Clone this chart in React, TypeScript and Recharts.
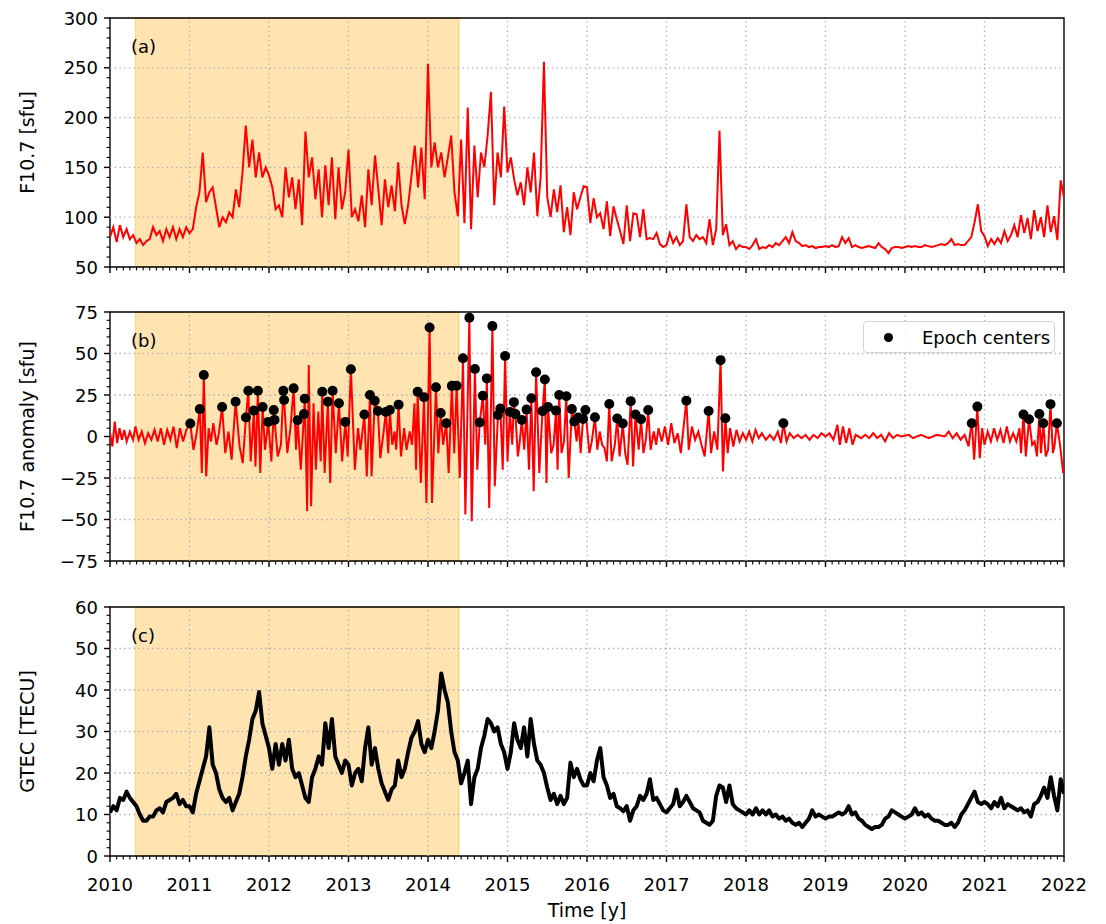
import React from 'react';
import {
  ComposedChart,
  Line,
  Scatter,
  XAxis,
  YAxis,
  ReferenceArea,
  ReferenceLine,
  Legend,
  Label,
} from 'recharts';

// Half-monthly samples (24 per year) of the solar radio flux, 2010.0 .. 2022.0
const f107_2010 = [80, 90, 75, 92, 80, 88, 78, 82, 74, 78, 72, 76, 78, 90, 82, 86, 76, 88, 80, 90, 78, 88, 80, 90];
const f107_2011 = [84, 88, 110, 125, 165, 115, 125, 130, 110, 90, 100, 95, 105, 100, 128, 110, 145, 192, 150, 178, 140, 165, 140, 150];
const f107_2012 = [142, 130, 108, 112, 100, 150, 120, 140, 108, 138, 92, 186, 140, 160, 118, 148, 100, 152, 112, 160, 98, 150, 108, 125];
const f107_2013 = [168, 100, 108, 96, 122, 90, 148, 112, 162, 128, 92, 138, 110, 132, 106, 155, 112, 93, 112, 141, 172, 130, 170, 118];
const f107_2014 = [254, 150, 175, 150, 165, 140, 160, 182, 125, 101, 178, 94, 210, 88, 172, 120, 165, 150, 182, 226, 112, 165, 140, 211];
const f107_2015 = [145, 160, 138, 122, 135, 112, 150, 125, 165, 101, 140, 256, 120, 100, 128, 105, 132, 85, 110, 82, 125, 108, 120, 131];
const f107_2016 = [130, 94, 119, 100, 104, 88, 116, 81, 111, 98, 86, 73, 112, 76, 104, 103, 80, 108, 78, 79, 78, 84, 73, 70];
const f107_2017 = [72, 84, 74, 80, 72, 76, 113, 80, 76, 82, 78, 80, 74, 98, 72, 88, 187, 82, 93, 72, 76, 68, 72, 70];
const f107_2018 = [70, 68, 72, 78, 68, 70, 69, 72, 70, 74, 72, 76, 80, 74, 85, 76, 74, 71, 72, 70, 71, 69, 70, 70];
const f107_2019 = [71, 70, 72, 70, 71, 80, 74, 79, 70, 72, 70, 69, 70, 71, 70, 69, 74, 70, 68, 64, 69, 70, 70, 69];
const f107_2020 = [70, 71, 70, 71, 70, 70, 72, 71, 70, 71, 72, 73, 72, 74, 78, 72, 73, 72, 72, 76, 80, 95, 113, 86];
const f107_2021 = [81, 71, 78, 73, 79, 74, 86, 76, 82, 92, 80, 102, 84, 99, 78, 107, 86, 100, 80, 112, 85, 101, 77, 137];
const f107_end = [120];

// Global TEC, same sampling
const gtec_2010 = [10.5, 12, 11, 14, 13.5, 15.5, 14, 13, 12, 10, 8.5, 8.5, 9.5, 9.5, 11, 11.5, 10.5, 13, 13.5, 14, 15, 12.5, 13.5, 12];
const gtec_2011 = [12, 10.5, 15, 18, 21, 24, 31, 22, 20, 16, 14, 13, 14, 11, 13, 15, 19, 24, 28, 33, 35, 39.5, 32, 29];
const gtec_2012 = [26, 21, 27, 22, 27, 23, 28, 21, 19, 20, 17, 14, 13, 19, 21, 24, 22, 32, 26, 33, 24, 22, 20, 23];
const gtec_2013 = [22, 17, 20, 21, 18, 26, 31, 22, 26, 21, 17.5, 15.5, 13.5, 16, 17, 23, 19, 21, 25, 28.5, 30, 32.5, 27, 25];
const gtec_2014 = [28, 26, 30, 35, 44, 40, 37, 30, 25, 23, 17.5, 20, 23, 12.5, 19, 21, 26, 29, 33, 32, 30, 31, 27, 25];
const gtec_2015 = [21, 25, 32, 28, 26, 31, 24, 33, 27, 23, 22, 20, 16.5, 13.5, 15, 12.5, 14.5, 12.5, 14, 22.5, 19, 21, 18.5, 17];
const gtec_2016 = [17, 20, 18, 23, 26, 19, 17, 14, 15, 12, 11.5, 10.8, 12, 8.5, 11, 12, 14.5, 13.5, 15, 18.5, 13.5, 14, 12.5, 11];
const gtec_2017 = [10.5, 11.5, 12.5, 16, 12, 13, 14.5, 13, 11.5, 11, 10.5, 8.5, 8, 7.5, 8.5, 14.5, 17, 16.5, 13, 17, 12.5, 11.5, 11, 10.5];
const gtec_2018 = [10, 11, 10, 11.5, 10, 11, 10, 11, 9.5, 10, 9, 9.5, 8.5, 9, 8, 7.5, 8, 7, 8, 9, 11, 9.5, 10, 9.5];
const gtec_2019 = [9, 9.5, 9.5, 10, 10.5, 10, 10.5, 12, 10, 10.5, 9, 8.5, 7.5, 7, 6.5, 7, 7, 7.5, 9, 9.5, 11, 10.5, 10, 9.5];
const gtec_2020 = [9, 9.5, 10, 11.5, 10, 10.5, 9.5, 10, 9, 8.5, 8.5, 8, 7.5, 7.5, 8, 7, 8, 10, 11, 12.5, 14, 15.5, 13, 12.5];
const gtec_2021 = [13, 12.5, 11.5, 13, 12, 14, 11.5, 12.5, 12, 11.5, 11, 11.5, 10.5, 11, 9.5, 12.5, 13, 14.5, 16.5, 14, 19, 14.5, 11, 18.5];
const gtec_end = [15];

// F10.7 anomaly, [decimal year, sfu]
const anomaly: [number, number][] = [
  [2010.0, 2], [2010.03, -6], [2010.06, 9], [2010.09, -4], [2010.12, 5], [2010.15, -2], [2010.18, 4], [2010.21, -3],
  [2010.25, 3], [2010.29, -2], [2010.32, 6], [2010.36, -2], [2010.4, 3], [2010.44, -4], [2010.48, 2], [2010.52, -2],
  [2010.56, 4], [2010.6, -3], [2010.64, 5], [2010.68, -5], [2010.72, 4], [2010.76, -2], [2010.8, 6], [2010.84, -7],
  [2010.88, 5], [2010.92, -3], [2010.96, 4],
  [2011.01, 7.8], [2011.05, -8], [2011.09, 2], [2011.13, 16.5], [2011.155, -22], [2011.18, 37], [2011.21, -24],
  [2011.24, 5], [2011.27, -3], [2011.3, 8], [2011.34, -5], [2011.37, 2], [2011.41, 17.8], [2011.45, -10], [2011.49, 3],
  [2011.53, -14], [2011.58, 20.9], [2011.63, -6], [2011.67, -16], [2011.71, 11.4], [2011.74, 27.6], [2011.77, -15],
  [2011.81, 15.6], [2011.83, -18], [2011.86, 27.6], [2011.89, -22], [2011.92, 17.8], [2011.95, -8], [2011.99, 8.8],
  [2012.03, -15], [2012.06, 15.9], [2012.07, 10], [2012.11, -12], [2012.15, -5], [2012.18, 27.5], [2012.19, 22],
  [2012.23, -10], [2012.27, 5], [2012.31, 29], [2012.34, -8], [2012.36, 9.8], [2012.4, -20], [2012.44, 13.5],
  [2012.45, 22.8], [2012.48, -45], [2012.5, 43], [2012.53, -42], [2012.56, 20], [2012.59, -20], [2012.62, 15],
  [2012.65, -15], [2012.67, 27], [2012.7, -22], [2012.74, 21], [2012.77, -28], [2012.8, 27.6], [2012.84, -10],
  [2012.88, 20], [2012.92, -15], [2012.96, 8.8], [2012.99, -12],
  [2013.03, 40.5], [2013.08, -20], [2013.12, 5], [2013.15, -8], [2013.2, 13.2], [2013.23, -24], [2013.27, 25],
  [2013.29, -24], [2013.33, 21.5], [2013.37, 15.4], [2013.4, -13], [2013.44, 2], [2013.47, 14.8], [2013.5, -10],
  [2013.52, 16], [2013.55, -5], [2013.58, 3], [2013.6, -8], [2013.63, 19.2], [2013.66, -12], [2013.7, 5], [2013.73, -8],
  [2013.77, 3], [2013.8, -5], [2013.83, 20], [2013.85, -20], [2013.87, 26.9], [2013.91, -28], [2013.95, 23.7],
  [2013.98, -40],
  [2014.02, 65.7], [2014.05, -40], [2014.1, 29.7], [2014.13, -10], [2014.16, 14.2], [2014.19, -5], [2014.23, 8],
  [2014.26, -22], [2014.3, 30.5], [2014.33, -10], [2014.36, 30.6], [2014.4, -25], [2014.44, 47.1], [2014.47, -47],
  [2014.52, 71.5], [2014.55, -51], [2014.59, 40.7], [2014.62, -20], [2014.65, 8.4], [2014.69, 24.5], [2014.72, -5],
  [2014.74, 35], [2014.77, -43], [2014.81, 66.5], [2014.84, -30], [2014.88, 13], [2014.91, 16.8], [2014.94, -20],
  [2014.97, 48.5],
  [2015.0, -15], [2015.03, 14.8], [2015.06, -5], [2015.08, 20.7], [2015.1, 13.5], [2015.13, -12], [2015.15, -5],
  [2015.18, 10], [2015.21, -8], [2015.24, 16.2], [2015.27, -20], [2015.3, 23], [2015.33, -33], [2015.36, 38.7],
  [2015.4, -22], [2015.44, 15.3], [2015.47, 34.3], [2015.49, -28], [2015.51, 17.8], [2015.55, -10], [2015.58, -5],
  [2015.61, 15.6], [2015.63, -20], [2015.65, 25], [2015.68, -10], [2015.71, -3], [2015.74, 24.3], [2015.77, -25],
  [2015.81, 16.5], [2015.84, 9], [2015.87, -3], [2015.89, 11.4], [2015.92, -10], [2015.95, 10.6], [2015.98, 16],
  [2016.03, -10], [2016.06, -3], [2016.1, 11.6], [2016.13, -8], [2016.16, 3], [2016.19, -5], [2016.22, -7],
  [2016.25, -15], [2016.28, 19.6], [2016.31, -15], [2016.35, -5], [2016.38, 10.8], [2016.41, -12], [2016.45, 7.8],
  [2016.48, -10], [2016.51, -17], [2016.55, 21.3], [2016.58, -18], [2016.61, 13.2], [2016.65, -8], [2016.68, 10.4],
  [2016.71, -10], [2016.74, -2], [2016.77, 16], [2016.8, -8], [2016.84, 3], [2016.87, -5], [2016.9, 5], [2016.94, -3],
  [2016.98, 6],
  [2017.02, -5], [2017.06, 8], [2017.1, -4], [2017.14, 2], [2017.18, -10], [2017.25, 21.6], [2017.28, -8],
  [2017.32, 6], [2017.36, -2], [2017.4, 3], [2017.44, -5], [2017.48, -12], [2017.53, 15.4], [2017.56, -10],
  [2017.6, 3], [2017.64, -8], [2017.68, 46], [2017.71, -21], [2017.74, 11], [2017.77, -10], [2017.8, 5],
  [2017.84, -6], [2017.88, 4], [2017.92, -3], [2017.96, 2],
  [2018.0, -2], [2018.04, 3], [2018.08, -3], [2018.12, 4], [2018.16, -1], [2018.2, 2], [2018.25, -2], [2018.3, 1],
  [2018.35, -2], [2018.4, 3], [2018.44, -4], [2018.47, 8], [2018.51, -3], [2018.55, 2], [2018.6, -1], [2018.65, 1],
  [2018.7, -1], [2018.75, 1], [2018.8, -2], [2018.85, 1], [2018.9, -1], [2018.95, 2],
  [2019.0, 0], [2019.05, 2], [2019.1, -2], [2019.15, 7], [2019.18, -5], [2019.22, 6], [2019.26, -4], [2019.3, 5],
  [2019.34, -5], [2019.38, 1], [2019.45, -1], [2019.5, 1], [2019.55, -1], [2019.6, 2], [2019.65, -1], [2019.7, 1],
  [2019.75, -3], [2019.8, 2], [2019.85, -1], [2019.9, 1], [2019.95, 0],
  [2020.05, 1], [2020.1, -1], [2020.2, 1], [2020.3, -1], [2020.4, 1], [2020.5, 0], [2020.55, 3], [2020.6, -1],
  [2020.65, 2], [2020.7, -2], [2020.75, 1], [2020.8, -6], [2020.82, 2], [2020.84, 8], [2020.87, -14], [2020.91, 18],
  [2020.94, -13], [2020.97, 5],
  [2021.0, -5], [2021.04, 3], [2021.08, -3], [2021.12, 5], [2021.16, -2], [2021.2, 4], [2021.24, -4], [2021.28, 6],
  [2021.32, -3], [2021.36, 2], [2021.4, -3], [2021.44, 5], [2021.46, -10], [2021.49, 13.2], [2021.52, -12],
  [2021.56, 10.4], [2021.6, -5], [2021.63, -3], [2021.66, -12], [2021.69, 13.6], [2021.71, -10], [2021.74, 8],
  [2021.77, -12], [2021.8, -8], [2021.83, 19.5], [2021.86, -10], [2021.88, -6], [2021.91, 8], [2021.95, -5],
  [2021.99, -22],
];

// Epoch centers, [decimal year, anomaly sfu]
const epochCenters: [number, number][] = [
  [2011.01, 7.8], [2011.13, 16.5], [2011.18, 37], [2011.41, 17.8], [2011.58, 20.9], [2011.71, 11.4], [2011.74, 27.6],
  [2011.81, 15.6], [2011.86, 27.6], [2011.92, 17.8], [2011.99, 8.8], [2012.06, 15.9], [2012.07, 10], [2012.18, 27.5],
  [2012.19, 22], [2012.31, 29], [2012.36, 9.8], [2012.44, 13.5], [2012.45, 22.8], [2012.67, 27], [2012.74, 21],
  [2012.8, 27.6], [2012.88, 20], [2012.96, 8.8], [2013.03, 40.5], [2013.2, 13.2], [2013.27, 25], [2013.33, 21.5],
  [2013.37, 15.4], [2013.47, 14.8], [2013.52, 16], [2013.63, 19.2], [2013.87, 26.9], [2013.95, 23.7], [2014.02, 65.7],
  [2014.1, 29.7], [2014.16, 14.2], [2014.23, 8], [2014.3, 30.5], [2014.36, 30.6], [2014.44, 47.1], [2014.52, 71.5],
  [2014.59, 40.7], [2014.65, 8.4], [2014.69, 24.5], [2014.74, 35], [2014.81, 66.5], [2014.88, 13], [2014.91, 16.8],
  [2014.97, 48.5], [2015.03, 14.8], [2015.08, 20.7], [2015.1, 13.5], [2015.18, 10], [2015.24, 16.2], [2015.3, 23],
  [2015.36, 38.7], [2015.44, 15.3], [2015.47, 34.3], [2015.51, 17.8], [2015.61, 15.6], [2015.65, 25], [2015.74, 24.3],
  [2015.81, 16.5], [2015.84, 9], [2015.89, 11.4], [2015.95, 10.6], [2015.98, 16], [2016.1, 11.6], [2016.28, 19.6],
  [2016.38, 10.8], [2016.45, 7.8], [2016.55, 21.3], [2016.61, 13.2], [2016.68, 10.4], [2016.77, 16], [2017.25, 21.6],
  [2017.53, 15.4], [2017.68, 46], [2017.74, 11], [2018.47, 8], [2020.84, 8], [2020.91, 18], [2021.49, 13.2],
  [2021.56, 10.4], [2021.69, 13.6], [2021.74, 8], [2021.83, 19.5], [2021.91, 8],
];

// highlighted interval (decimal years)
const SHADE_START = 2010.32;
const SHADE_END = 2014.39;

const X_DOMAIN: [number, number] = [2010, 2022];
const YEARS = [2010, 2011, 2012, 2013, 2014, 2015, 2016, 2017, 2018, 2019, 2020, 2021, 2022];
const SAMPLES_PER_YEAR = 24;

const f107 = [
  ...f107_2010, ...f107_2011, ...f107_2012, ...f107_2013, ...f107_2014, ...f107_2015,
  ...f107_2016, ...f107_2017, ...f107_2018, ...f107_2019, ...f107_2020, ...f107_2021, ...f107_end,
];
const gtec = [
  ...gtec_2010, ...gtec_2011, ...gtec_2012, ...gtec_2013, ...gtec_2014, ...gtec_2015,
  ...gtec_2016, ...gtec_2017, ...gtec_2018, ...gtec_2019, ...gtec_2020, ...gtec_2021, ...gtec_end,
];

const toSeries = (vals: number[]) => vals.map((v, i) => ({ t: 2010 + i / SAMPLES_PER_YEAR, v }));
const f107Data = toSeries(f107);
const gtecData = toSeries(gtec);
const anomalyData = anomaly.map(([t, v]) => ({ t, v }));
const epochData = epochCenters.map(([t, v]) => ({ t, v }));

// layout
const W = 1106;
const PLOT_LEFT = 110;
const PLOT_RIGHT = 1064;
const PLOT_H = 249;
const TOP_PAD = 20;
const FONT = '"DejaVu Sans", Verdana, sans-serif';
const FS = 18;
const FS_LABEL = 19;
const GRID = '#b0b0b0';

const range = (a: number, b: number, step: number) => {
  const out: number[] = [];
  const n = Math.round((b - a) / step);
  for (let i = 0; i <= n; i++) out.push(+(a + i * step).toFixed(6));
  return out;
};
const monthTicks = range(2010, 2022, 1 / 12);
const fmt = (v: number) => (v < 0 ? '\u2212' + Math.abs(v) : String(v));

const makeYTick = (majors: number[]) => (p: any) => {
  const v = p.payload.value;
  const major = majors.some((m) => Math.abs(m - v) < 1e-6);
  return (
    <g>
      <line x1={p.x} x2={p.x - (major ? 6 : 3.5)} y1={p.y} y2={p.y} stroke="#000" strokeWidth={major ? 1.4 : 1.1} />
      {major && (
        <text x={p.x - 12} y={p.y} dominantBaseline="central" textAnchor="end" fontSize={FS} fontFamily={FONT} fill="#000">
          {fmt(v)}
        </text>
      )}
    </g>
  );
};

const makeXTick = (labels: boolean) => (p: any) => {
  const v = p.payload.value;
  const major = Math.abs(v - Math.round(v)) < 1e-6;
  return (
    <g>
      <line x1={p.x} x2={p.x} y1={p.y} y2={p.y + (major ? 6 : 3.5)} stroke="#000" strokeWidth={major ? 1.4 : 1.1} />
      {major && labels && (
        <text x={p.x} y={p.y + 28} dominantBaseline="central" textAnchor="middle" fontSize={FS} fontFamily={FONT} fill="#000">
          {Math.round(v)}
        </text>
      )}
    </g>
  );
};

type PanelProps = {
  top: number;
  tag: string;
  yLabel: string;
  yDomain: [number, number];
  yMajors: number[];
  yMinorStep: number;
  data: { t: number; v: number }[];
  bottom?: boolean;
  children?: React.ReactNode;
};

function Panel({ top, tag, yLabel, yDomain, yMajors, yMinorStep, data, bottom, children }: PanelProps) {
  const xAxisH = bottom ? 80 : 10;
  const h = TOP_PAD + PLOT_H + xAxisH;
  const yTicks = range(yDomain[0], yDomain[1], yMinorStep);
  const midY = TOP_PAD + PLOT_H / 2;
  return (
    <div style={{ position: 'absolute', left: 0, top: top - TOP_PAD, width: W, height: h }}>
      <ComposedChart
        width={W}
        height={h}
        data={data}
        margin={{ top: TOP_PAD, right: W - PLOT_RIGHT, bottom: 0, left: 0 }}
      >
        <XAxis
          dataKey="t"
          type="number"
          domain={X_DOMAIN}
          allowDataOverflow
          ticks={monthTicks}
          interval={0}
          tickSize={0}
          tickMargin={0}
          tickLine={false}
          axisLine={false}
          height={xAxisH}
          tick={makeXTick(!!bottom)}
          label={
            bottom ? (
              <Label
                content={() => (
                  <text
                    x={(PLOT_LEFT + PLOT_RIGHT) / 2}
                    y={TOP_PAD + PLOT_H + 54}
                    dominantBaseline="central"
                    textAnchor="middle"
                    fontSize={FS_LABEL}
                    fontFamily={FONT}
                    fill="#000"
                  >
                    Time [y]
                  </text>
                )}
              />
            ) : undefined
          }
        />
        <YAxis
          dataKey="v"
          type="number"
          domain={yDomain}
          allowDataOverflow
          ticks={yTicks}
          interval={0}
          width={PLOT_LEFT}
          tickSize={0}
          tickMargin={0}
          tickLine={false}
          axisLine={false}
          tick={makeYTick(yMajors)}
          label={
            <Label
              content={() => (
                <text
                  x={27}
                  y={midY}
                  transform={`rotate(-90 27 ${midY})`}
                  dominantBaseline="central"
                  textAnchor="middle"
                  fontSize={FS_LABEL}
                  fontFamily={FONT}
                  fill="#000"
                >
                  {yLabel}
                </text>
              )}
            />
          }
        />
        <ReferenceArea
          x1={SHADE_START}
          x2={SHADE_END}
          y1={yDomain[0]}
          y2={yDomain[1]}
          fill="#ffa500"
          fillOpacity={0.3}
          stroke="#ffa500"
          strokeOpacity={0.35}
          strokeWidth={1.4}
        />
        {YEARS.slice(1, -1).map((yr) => (
          <ReferenceLine key={'gx' + yr} x={yr} stroke={GRID} strokeWidth={1.3} strokeDasharray="1.4 3.3" />
        ))}
        {yMajors.slice(1, -1).map((v) => (
          <ReferenceLine key={'gy' + v} y={v} stroke={GRID} strokeWidth={1.3} strokeDasharray="1.4 3.3" />
        ))}
        {children}
        <ReferenceArea
          x1={X_DOMAIN[0]}
          x2={X_DOMAIN[1]}
          y1={yDomain[0]}
          y2={yDomain[1]}
          fill="none"
          stroke="#000"
          strokeWidth={1.4}
        />
      </ComposedChart>
      <div
        style={{
          position: 'absolute',
          left: 131,
          top: TOP_PAD + 29 - 11,
          fontSize: FS,
          fontFamily: FONT,
          lineHeight: '22px',
          color: '#000',
        }}
      >
        {tag}
      </div>
    </div>
  );
}

const EpochLegend = () => (
  <div
    style={{
      boxSizing: 'border-box',
      width: 192,
      height: 32,
      border: '1.3px solid #d4d4d4',
      borderRadius: 4,
      background: 'rgba(255,255,255,0.85)',
      display: 'flex',
      alignItems: 'center',
      fontFamily: FONT,
      fontSize: FS,
      color: '#000',
    }}
  >
    <span
      style={{ display: 'inline-block', width: 9, height: 9, borderRadius: '50%', background: '#000', marginLeft: 20 }}
    />
    <span style={{ marginLeft: 29 }}>Epoch centers</span>
  </div>
);

export default function App() {
  return (
    <div style={{ position: 'absolute', left: 0, top: 0, width: W, height: 924, background: '#fff' }}>
      <Panel
        top={18}
        tag="(a)"
        yLabel="F10.7 [sfu]"
        yDomain={[50, 300]}
        yMajors={[50, 100, 150, 200, 250, 300]}
        yMinorStep={10}
        data={f107Data}
      >
        <Line dataKey="v" type="linear" stroke="#ff0000" strokeWidth={2} dot={false} isAnimationActive={false} />
      </Panel>
      <Panel
        top={312}
        tag="(b)"
        yLabel="F10.7 anomaly [sfu]"
        yDomain={[-75, 75]}
        yMajors={[-75, -50, -25, 0, 25, 50, 75]}
        yMinorStep={5}
        data={anomalyData}
      >
        <Line dataKey="v" type="linear" stroke="#ff0000" strokeWidth={2} dot={false} isAnimationActive={false} />
        <Scatter
          name="Epoch centers"
          data={epochData}
          dataKey="v"
          fill="#000"
          isAnimationActive={false}
          shape={(p: any) => <circle cx={p.cx} cy={p.cy} r={5} fill="#000" />}
        />
        <Legend
          layout="vertical"
          align="center"
          verticalAlign="middle"
          wrapperStyle={{ left: 863, top: 321 - 312 + TOP_PAD, width: 192, height: 32 }}
          content={() => <EpochLegend />}
        />
      </Panel>
      <Panel
        top={607}
        tag="(c)"
        yLabel="GTEC [TECU]"
        yDomain={[0, 60]}
        yMajors={[0, 10, 20, 30, 40, 50, 60]}
        yMinorStep={2}
        data={gtecData}
        bottom
      >
        <Line
          dataKey="v"
          type="linear"
          stroke="#000"
          strokeWidth={4}
          strokeLinejoin="round"
          dot={false}
          isAnimationActive={false}
        />
      </Panel>
    </div>
  );
}
